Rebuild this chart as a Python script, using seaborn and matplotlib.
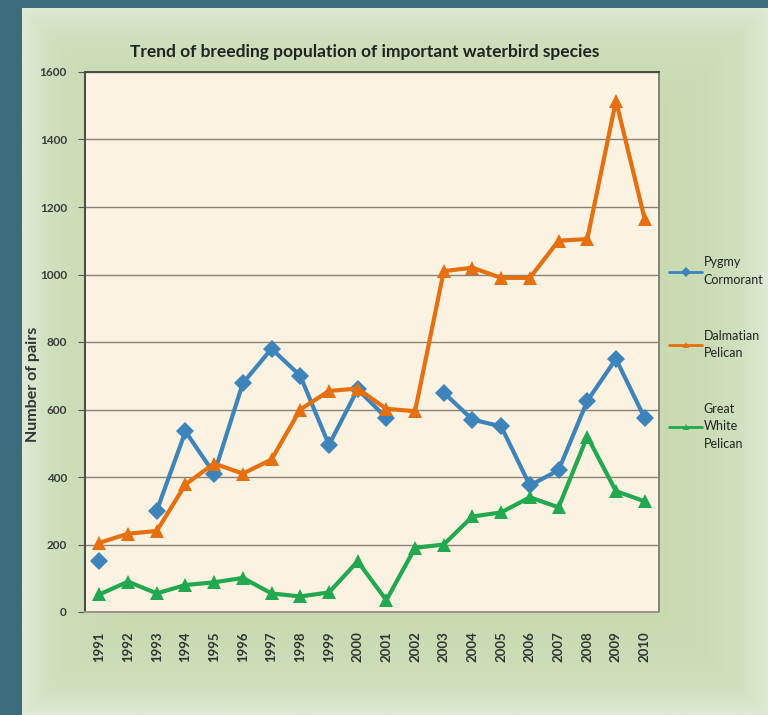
import numpy as np
import pandas as pd
import seaborn as sns
import matplotlib.pyplot as plt
from matplotlib.colors import LinearSegmentedColormap

# data (pairs per year)
years = list(range(1991, 2011))
pygmy_cormorant = [150, np.nan, 300, 535, 410, 678, 780, 700, 495, 660,
                   575, np.nan, 650, 570, 550, 375, 420, 625, 750, 575]
dalmatian_pelican = [205, 232, 240, 378, 440, 410, 452, 600, 655, 662,
                     602, 595, 1010, 1020, 990, 990, 1100, 1105, 1515, 1165]
great_white_pelican = [52, 90, 55, 80, 88, 101, 55, 46, 58, 150,
                       35, 190, 200, 283, 295, 340, 310, 520, 358, 328]

species = ["Pygmy Cormorant", "Dalmatian Pelican", "Great White Pelican"]
legend_labels = ["Pygmy\nCormorant", "Dalmatian\nPelican", "Great\nWhite\nPelican"]
colors = ["#3d84bb", "#e66f10", "#22a84e"]
y_ticks = [0, 200, 400, 600, 800, 1000, 1200, 1400, 1600]

# long table, breaking a series into segments where a year is missing
rows = []
for name, vals in zip(species, [pygmy_cormorant, dalmatian_pelican, great_white_pelican]):
    seg = 0
    for yr, v in zip(years, vals):
        if np.isnan(v):
            seg += 1
            continue
        rows.append({"year": yr, "pairs": v, "species": name, "seg": f"{name}-{seg}"})
df = pd.DataFrame(rows)

sns.set_style("white")
plt.rcParams["font.family"] = ["Lato", "DejaVu Sans"]

fig = plt.figure(figsize=(7.68, 7.15), dpi=100, facecolor="#3b6b7c")

# green slide panel behind the chart
bg = fig.add_axes([22 / 768, 0, 1 - 22 / 768, 707 / 715], zorder=0)
gx, gy = np.meshgrid(np.linspace(-1, 1, 300), np.linspace(-1, 1, 300))
shade = np.clip(np.maximum(np.abs(gx) ** 8, np.abs(gy) ** 8), 0, 1)
panel_cmap = LinearSegmentedColormap.from_list("panel", ["#c7daaf", "#cfe0bd", "#dfe9d4"])
bg.imshow(shade, cmap=panel_cmap, aspect="auto", extent=[0, 1, 0, 1])
bg.set_axis_off()

ax = fig.add_axes([85 / 768, 103 / 715, 574 / 768, 540 / 715], zorder=1)
ax.set_facecolor("#fcf2e1")

sns.lineplot(data=df, x="year", y="pairs", hue="species", style="species",
             units="seg", estimator=None, hue_order=species, style_order=species,
             palette=colors, markers=["D", "^", "^"], dashes=False,
             lw=3, markersize=9.5, markeredgewidth=0, ax=ax)

ax.set_xlim(1990.5, 2010.5)
ax.set_ylim(0, 1600)
ax.set_yticks(y_ticks)
ax.set_yticklabels([str(t) for t in y_ticks], fontsize=8.5, fontweight="bold", color="#3a3a3a")
ax.set_xticks(years)
ax.set_xticklabels([str(y) for y in years], rotation=90, fontsize=9.5,
                   fontweight="bold", color="#333333")
ax.set_xticks(np.arange(1990.5, 2011, 1), minor=True)
ax.tick_params(axis="x", which="major", length=0, pad=14)
ax.tick_params(axis="x", which="minor", length=4, color="#8a8a80", width=1)
ax.tick_params(axis="y", length=5, color="#555555", pad=8, left=True)
ax.grid(axis="y", color="#8a8276", lw=1)
ax.set_axisbelow(True)
ax.set_xlabel("")
ax.set_ylabel("")
for side, c in [("top", "#4a4a40"), ("left", "#4a4a40"), ("right", "#858078"), ("bottom", "#9a958c")]:
    ax.spines[side].set_color(c)
    ax.spines[side].set_linewidth(1.4)

fig.text(33 / 768, 0.463, "Number of pairs", rotation=90, ha="center", va="center",
         fontsize=11.5, fontweight="bold", color="#333333")
fig.text(0.475, 0.927, "Trend of breeding population of important waterbird species",
         ha="center", va="center", fontsize=12.5, fontweight="bold", color="#222222")

handles = ax.get_legend().legend_handles
ax.get_legend().remove()
leg = ax.legend(handles, legend_labels, loc="upper left", bbox_transform=fig.transFigure,
                bbox_to_anchor=(0.857, 0.657), frameon=False, fontsize=9,
                handlelength=2.6, handletextpad=0.15, labelspacing=3.5)
for h in leg.legend_handles:
    h.set_markersize(5)
    h.set_linewidth(2)
for t in leg.get_texts():
    t.set_linespacing(1.55)
    t.set_color("#222222")

fig.savefig("out.png", dpi=100, facecolor=fig.get_facecolor())
